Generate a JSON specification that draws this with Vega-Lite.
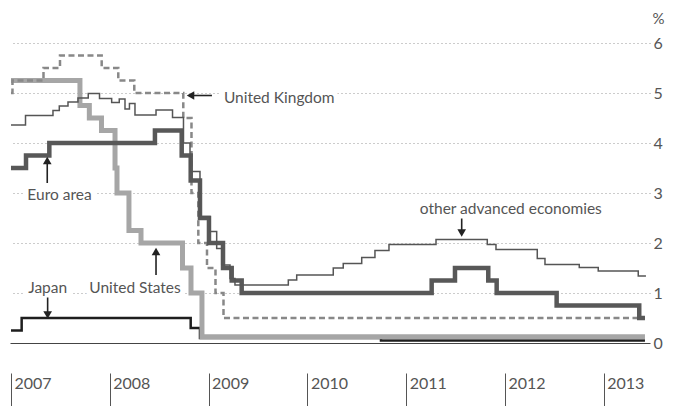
{
  "$schema": "https://vega.github.io/schema/vega-lite/v6.json",
  "width": 640,
  "height": 300,
  "autosize": {"type": "none"},
  "padding": {"left": 10, "top": 43, "right": 42, "bottom": 63},
  "background": "white",
  "config": {"view": {"stroke": null}, "font": "Lato"},
  "datasets": {
    "series": [
      {"s": "Japan", "t": 2007.0, "v": 0.25}, {"s": "Japan", "t": 2007.108, "v": 0.5}, {"s": "Japan", "t": 2008.819, "v": 0.3}, {"s": "Japan", "t": 2008.913, "v": 0.1}, {"s": "Japan", "t": 2010.745, "v": 0.05}, {"s": "Japan", "t": 2013.417, "v": 0.05},
      {"s": "US", "t": 2007.0, "v": 5.25}, {"s": "US", "t": 2007.698, "v": 4.75}, {"s": "US", "t": 2007.793, "v": 4.5}, {"s": "US", "t": 2007.916, "v": 4.25}, {"s": "US", "t": 2008.053, "v": 3.5}, {"s": "US", "t": 2008.073, "v": 3.0}, {"s": "US", "t": 2008.194, "v": 2.25}, {"s": "US", "t": 2008.316, "v": 2.0}, {"s": "US", "t": 2008.736, "v": 1.5}, {"s": "US", "t": 2008.822, "v": 1.0}, {"s": "US", "t": 2008.933, "v": 0.125}, {"s": "US", "t": 2013.417, "v": 0.125},
      {"s": "UK", "t": 2007.0, "v": 5.0}, {"s": "UK", "t": 2007.015, "v": 5.25}, {"s": "UK", "t": 2007.329, "v": 5.5}, {"s": "UK", "t": 2007.496, "v": 5.75}, {"s": "UK", "t": 2007.918, "v": 5.5}, {"s": "UK", "t": 2008.086, "v": 5.25}, {"s": "UK", "t": 2008.248, "v": 5.0}, {"s": "UK", "t": 2008.744, "v": 4.5}, {"s": "UK", "t": 2008.827, "v": 3.0}, {"s": "UK", "t": 2008.896, "v": 2.0}, {"s": "UK", "t": 2008.984, "v": 1.5}, {"s": "UK", "t": 2009.07, "v": 1.0}, {"s": "UK", "t": 2009.151, "v": 0.5}, {"s": "UK", "t": 2013.417, "v": 0.5},
      {"s": "Euro", "t": 2007.0, "v": 3.5}, {"s": "Euro", "t": 2007.152, "v": 3.75}, {"s": "Euro", "t": 2007.388, "v": 4.0}, {"s": "Euro", "t": 2008.457, "v": 4.25}, {"s": "Euro", "t": 2008.728, "v": 3.75}, {"s": "Euro", "t": 2008.819, "v": 3.25}, {"s": "Euro", "t": 2008.913, "v": 2.5}, {"s": "Euro", "t": 2009.004, "v": 2.0}, {"s": "Euro", "t": 2009.146, "v": 1.5}, {"s": "Euro", "t": 2009.234, "v": 1.25}, {"s": "Euro", "t": 2009.335, "v": 1.0}, {"s": "Euro", "t": 2011.258, "v": 1.25}, {"s": "Euro", "t": 2011.494, "v": 1.5}, {"s": "Euro", "t": 2011.831, "v": 1.25}, {"s": "Euro", "t": 2011.916, "v": 1.0}, {"s": "Euro", "t": 2012.523, "v": 0.75}, {"s": "Euro", "t": 2013.359, "v": 0.5}, {"s": "Euro", "t": 2013.417, "v": 0.5},
      {"s": "Other", "t": 2007.0, "v": 4.36}, {"s": "Other", "t": 2007.147, "v": 4.55}, {"s": "Other", "t": 2007.425, "v": 4.65}, {"s": "Other", "t": 2007.489, "v": 4.74}, {"s": "Other", "t": 2007.577, "v": 4.82}, {"s": "Other", "t": 2007.678, "v": 4.9}, {"s": "Other", "t": 2007.782, "v": 4.99}, {"s": "Other", "t": 2007.896, "v": 4.89}, {"s": "Other", "t": 2008.019, "v": 4.81}, {"s": "Other", "t": 2008.096, "v": 4.88}, {"s": "Other", "t": 2008.154, "v": 4.68}, {"s": "Other", "t": 2008.199, "v": 4.79}, {"s": "Other", "t": 2008.255, "v": 4.56}, {"s": "Other", "t": 2008.468, "v": 4.66}, {"s": "Other", "t": 2008.635, "v": 4.51}, {"s": "Other", "t": 2008.746, "v": 4.0}, {"s": "Other", "t": 2008.812, "v": 3.43}, {"s": "Other", "t": 2008.913, "v": 2.53}, {"s": "Other", "t": 2009.014, "v": 2.23}, {"s": "Other", "t": 2009.082, "v": 1.89}, {"s": "Other", "t": 2009.133, "v": 1.56}, {"s": "Other", "t": 2009.217, "v": 1.29}, {"s": "Other", "t": 2009.267, "v": 1.16}, {"s": "Other", "t": 2009.807, "v": 1.26}, {"s": "Other", "t": 2009.892, "v": 1.36}, {"s": "Other", "t": 2010.262, "v": 1.5}, {"s": "Other", "t": 2010.363, "v": 1.59}, {"s": "Other", "t": 2010.55, "v": 1.71}, {"s": "Other", "t": 2010.684, "v": 1.85}, {"s": "Other", "t": 2010.826, "v": 1.97}, {"s": "Other", "t": 2011.302, "v": 2.07}, {"s": "Other", "t": 2011.821, "v": 1.97}, {"s": "Other", "t": 2011.909, "v": 1.87}, {"s": "Other", "t": 2012.327, "v": 1.69}, {"s": "Other", "t": 2012.405, "v": 1.57}, {"s": "Other", "t": 2012.752, "v": 1.51}, {"s": "Other", "t": 2012.944, "v": 1.44}, {"s": "Other", "t": 2013.349, "v": 1.34}, {"s": "Other", "t": 2013.427, "v": 1.34}
    ],
    "labels": [
      {"text": "United Kingdom", "t": 2009.715, "v": 4.91},
      {"text": "Euro area", "t": 2007.491, "v": 2.96},
      {"text": "other advanced economies", "t": 2012.059, "v": 2.69},
      {"text": "Japan", "t": 2007.371, "v": 1.11},
      {"text": "United States", "t": 2008.255, "v": 1.11}
    ],
    "arrows": [
      {"t": 2008.812, "v": 4.95, "t2": 2009.034, "v2": 4.95},
      {"t": 2007.367, "v": 3.2, "t2": 2007.367, "v2": 3.65},
      {"t": 2011.562, "v": 2.49, "t2": 2011.562, "v2": 2.2},
      {"t": 2007.371, "v": 0.91, "t2": 2007.371, "v2": 0.56},
      {"t": 2008.468, "v": 1.36, "t2": 2008.468, "v2": 1.83}
    ],
    "heads": [
      {"t": 2008.817, "v": 4.95, "shape": "triangle-left"},
      {"t": 2007.367, "v": 3.65, "shape": "triangle-up"},
      {"t": 2011.562, "v": 2.2, "shape": "triangle-down"},
      {"t": 2007.371, "v": 0.56, "shape": "triangle-down"},
      {"t": 2008.468, "v": 1.83, "shape": "triangle-up"}
    ]
  },
  "encoding": {
    "x": {
      "field": "t", "type": "quantitative",
      "scale": {"domain": [2006.99, 2013.468], "nice": false, "zero": false},
      "axis": {
        "orient": "bottom", "offset": 30, "values": [2007, 2008, 2009, 2010, 2011, 2012, 2013], "format": "d",
        "title": null, "grid": false, "domain": false,
        "tickSize": 33, "tickColor": "#555", "tickWidth": 1,
        "labelAlign": "left", "labelBaseline": "top", "labelPadding": -31, "labelOffset": 3, "labelFlush": false,
        "labelFontSize": 16, "labelColor": "#555", "labelFont": "Lato", "labelFontWeight": 400, "labelOverlap": false
      }
    },
    "y": {
      "field": "v", "type": "quantitative",
      "scale": {"domain": [0, 6], "nice": false, "zero": true},
      "axis": {
        "orient": "right", "values": [0, 1, 2, 3, 4, 5, 6], "format": "d",
        "grid": true,
        "gridDash": {"condition": {"test": "datum.value === 0", "value": []}, "value": [1, 3]},
        "gridColor": {"condition": {"test": "datum.value === 0", "value": "#444"}, "value": "#999"},
        "gridWidth": 1,
        "domain": false, "ticks": false, "labelPadding": 3,
        "labelFontSize": 16, "labelColor": "#555", "labelFont": "Lato", "labelFontWeight": 400, "labelAlign": "left", "labelBaseline": "middle",
        "title": "%", "titleAngle": 0, "titleX": 2, "titleY": -25, "titleAlign": "left", "titleBaseline": "middle",
        "titleFontSize": 15, "titleFontWeight": 400, "titleColor": "#555", "titleFont": "Lato"
      }
    }
  },
  "layer": [
    {
      "data": {"name": "labels"},
      "mark": {"type": "text", "fontSize": 15.5, "font": "Lato", "fontWeight": 400, "fill": "white", "stroke": "white", "strokeWidth": 10, "align": "center", "baseline": "middle"},
      "encoding": {"text": {"field": "text"}}
    },
    {
      "data": {"name": "series"},
      "transform": [{"filter": "datum.s === 'Japan'"}],
      "mark": {"type": "line", "interpolate": "step-after", "color": "#1e1e1e", "strokeWidth": 2.5}
    },
    {
      "data": {"name": "series"},
      "transform": [{"filter": "datum.s === 'US'"}],
      "mark": {"type": "line", "interpolate": "step-after", "color": "#a6a6a6", "strokeWidth": 5}
    },
    {
      "data": {"name": "series"},
      "transform": [{"filter": "datum.s === 'UK'"}],
      "mark": {"type": "line", "interpolate": "step-after", "color": "#888888", "strokeWidth": 2.5, "strokeDash": [6, 3.5]}
    },
    {
      "data": {"name": "series"},
      "transform": [{"filter": "datum.s === 'Euro'"}],
      "mark": {"type": "line", "interpolate": "step-after", "color": "#585858", "strokeWidth": 4.5}
    },
    {
      "data": {"name": "series"},
      "transform": [{"filter": "datum.s === 'Other'"}],
      "mark": {"type": "line", "interpolate": "step-after", "color": "#555555", "strokeWidth": 1.5}
    },
    {
      "data": {"name": "arrows"},
      "mark": {"type": "rule", "color": "#222", "strokeWidth": 1.6},
      "encoding": {"x2": {"field": "t2"}, "y2": {"field": "v2"}}
    },
    {
      "data": {"name": "heads"},
      "mark": {"type": "point", "filled": true, "color": "#222", "size": 75, "opacity": 1},
      "encoding": {"shape": {"field": "shape", "type": "nominal", "scale": null}}
    },
    {
      "data": {"name": "labels"},
      "mark": {"type": "text", "fontSize": 15.5, "font": "Lato", "fontWeight": 400, "color": "#555", "align": "center", "baseline": "middle"},
      "encoding": {"text": {"field": "text"}}
    }
  ]
}
